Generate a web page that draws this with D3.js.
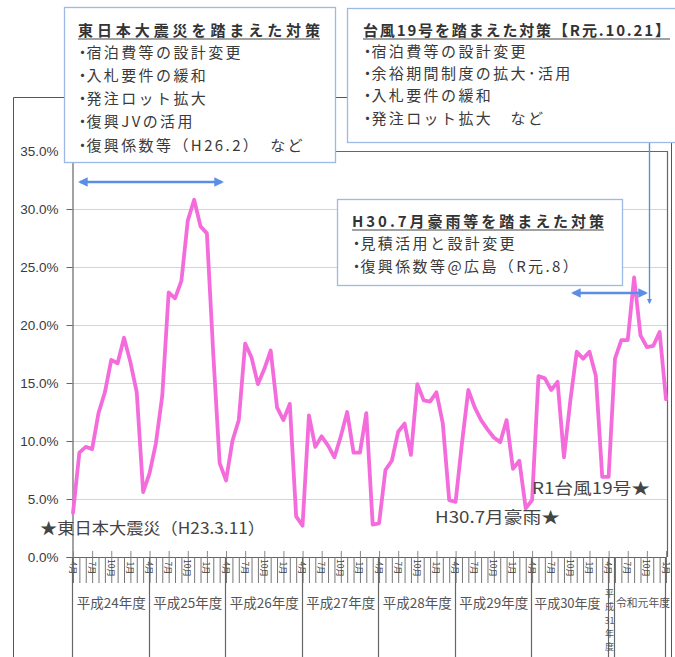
<!DOCTYPE html>
<html><head><meta charset="utf-8">
<script src="https://cdn.jsdelivr.net/npm/d3@7"></script>
<style>
body{margin:0;background:#fff}
svg{display:block}
text{font-family:"Noto Sans CJK JP","Noto Sans",sans-serif;fill:#3a3a3a}
</style>
</head><body><svg id="c" width="675" height="657"></svg>
<script>
// ---------------- DATA ----------------
const fiscalYears = ["平成24年度","平成25年度","平成26年度","平成27年度","平成28年度","平成29年度","平成30年度","平成31年度","令和元年度"];
const yearStartIndex = [0,12,24,36,48,60,72,84,85];
const monthTickLabels = ["4月","7月","10月","1月"];
const yTicks = [0,5,10,15,20,25,30,35];
const rate = [
  3.8, 9.0, 9.5, 9.3, 12.4, 14.2, 17.0, 16.7, 18.9, 16.8, 14.2, 5.6,
  7.2, 9.8, 13.9, 22.8, 22.3, 23.8, 29.0, 30.8, 28.5, 27.9, 17.5, 8.1,
  6.6, 10.0, 11.8, 18.4, 17.2, 14.9, 16.2, 17.8, 12.9, 11.8, 13.2, 3.5,
  2.7, 12.2, 9.5, 10.4, 9.6, 8.6, 10.4, 12.5, 9.0, 9.0, 12.4, 2.8,
  2.9, 7.5, 8.3, 10.8, 11.5, 8.8, 14.9, 13.5, 13.4, 14.2, 11.5, 4.9,
  4.75, 9.8, 14.4, 12.9, 11.8, 11.0, 10.3, 9.9, 11.8, 7.6, 8.3, 4.2,
  4.9, 15.6, 15.4, 14.4, 15.1, 8.6, 13.5, 17.7, 17.1, 17.7, 15.6, 6.9,
  6.9,
  17.1, 18.7, 18.7, 24.1, 19.1, 18.1, 18.2, 19.4, 13.6
];
const box1Title = "東日本大震災を踏まえた対策";
const box1Lines = ["・宿泊費等の設計変更","・入札要件の緩和","・発注ロット拡大","・復興JVの活用","・復興係数等（H26.2）　など"];
const box2Title = "台風19号を踏まえた対策【R元.10.21】";
const box2Lines = ["・宿泊費等の設計変更","・余裕期間制度の拡大･活用","・入札要件の緩和","・発注ロット拡大　など"];
const box3Title = "H30.7月豪雨等を踏まえた対策";
const box3Lines = ["・見積活用と設計変更","・復興係数等@広島（R元.8）"];
const eventLabels = ["★東日本大震災（H23.3.11）","H30.7月豪雨★","R1台風19号★"];

// ---------------- CHART ----------------
const svg = d3.select("#c");
const idx = d3.range(rate.length);
const x = d3.scalePoint().domain(idx).range([73, 666]);
const y = d3.scaleLinear().domain([0,35]).range([557,151]);
const grid = "#c9d6ea", axisC = "#666";

// outer frame
svg.append("path").attr("d","M13.5,657 V97.5 H671.5 V657").attr("fill","none").attr("stroke","#555").attr("stroke-width",1);

// gridlines
svg.append("g").selectAll("line").data(yTicks.filter(v=>v>0&&v<35)).join("line")
  .attr("x1",72).attr("x2",667).attr("y1",d=>y(d)+0.5).attr("y2",d=>y(d)+0.5)
  .attr("stroke",grid).attr("stroke-width",1);

// plot frame (top & right)
svg.append("path").attr("d",`M72,${y(35)+0.5} H667.5 V557`).attr("fill","none").attr("stroke",axisC).attr("stroke-width",1.2);

// y axis
const yAxis = d3.axisLeft(y).tickValues(yTicks).tickSize(6).tickPadding(8).tickFormat(d=>(d).toFixed(1)+"%");
const ga = svg.append("g").attr("transform","translate(72.5,0)").call(yAxis);
ga.select(".domain").attr("stroke",axisC).attr("stroke-width",1.2);
ga.selectAll(".tick line").attr("stroke",axisC);
ga.selectAll(".tick text").attr("font-size",13.5).style("font-family","'Liberation Sans',Arial,sans-serif").attr("fill","#4a4a4a");

// x axis base line
svg.append("line").attr("x1",72).attr("x2",667).attr("y1",557.5).attr("y2",557.5).attr("stroke",axisC).attr("stroke-width",1.2);

// month lines
svg.append("g").selectAll("line").data(idx).join("line")
  .attr("x1",d=>x(d)+0.5).attr("x2",d=>x(d)+0.5).attr("y1",557).attr("y2",583)
  .attr("stroke","#777").attr("stroke-width",1);
// quarter ticks above
svg.append("g").selectAll("line").data(idx.filter(i=>i%3===0)).join("line")
  .attr("x1",d=>x(d)+0.5).attr("x2",d=>x(d)+0.5).attr("y1",551).attr("y2",557)
  .attr("stroke","#888").attr("stroke-width",1);
// month labels (rotated)
svg.append("g").selectAll("text").data(idx.filter(i=>i%3===0)).join("text")
  .attr("transform",d=>`translate(${x(d)+0.5},568) rotate(90)`)
  .attr("text-anchor","middle").attr("dominant-baseline","central")
  .attr("font-size",8.5).style("fill","#444")
  .text(d=>monthTickLabels[(d/3)%4]);

// year separators
const sepIdx = yearStartIndex.concat([rate.length-1]);
svg.append("g").selectAll("line").data(sepIdx).join("line")
  .attr("x1",d=>Math.round(x(d))-0.5).attr("x2",d=>Math.round(x(d))-0.5).attr("y1",557).attr("y2",657)
  .attr("stroke","#666").attr("stroke-width",1.2);

// year labels
const yl = svg.append("g").attr("font-size",13.5);
fiscalYears.slice(0,7).forEach((t,k)=>{
  const a = x(yearStartIndex[k]), b = x(yearStartIndex[k+1]);
  yl.append("text").attr("x",(a+b)/2 - (k===6?3:0)).attr("y",608).attr("text-anchor","middle")
    .attr("font-size",k===6?13:13.5).style("fill","#555").text(t);
});
// 平成31年度 : narrow column, one character per row
const h31x = x(84) + 1;
const h31 = yl.append("text").attr("text-anchor","middle").attr("font-size",9).style("fill","#555");
const h31rows = ["平","成","31","年","度"];
h31rows.forEach((t,k)=>{
  h31.append("tspan").attr("x",h31x).attr("y",597 + k*13.3).text(t);
});
yl.append("text").attr("x",670).attr("y",607).attr("text-anchor","end").attr("font-size",10.8).style("fill","#555").text(fiscalYears[8]);

// the series line
svg.append("path").datum(rate)
  .attr("d",d3.line().x((d,i)=>x(i)).y(d=>y(d)))
  .attr("fill","none").attr("stroke","#f46cdc").attr("stroke-width",3.8)
  .attr("stroke-linejoin","round").attr("stroke-linecap","round");

// event labels
const ev = svg.append("g").attr("font-size",16);
ev.append("text").attr("x",40).attr("y",534).attr("textLength",225).attr("lengthAdjust","spacingAndGlyphs").style("fill","#444").text(eventLabels[0]);
ev.append("text").attr("x",435).attr("y",523).attr("textLength",125).attr("lengthAdjust","spacingAndGlyphs").style("fill","#444").text(eventLabels[1]);
ev.append("text").attr("x",532).attr("y",494).attr("textLength",118).attr("lengthAdjust","spacingAndGlyphs").style("fill","#444").text(eventLabels[2]);

// arrows
const arrowC = "#5b8fe6";
const defs = svg.append("defs");
defs.append("marker").attr("id","ah").attr("viewBox","0 0 10 10").attr("refX",8).attr("refY",5)
  .attr("markerWidth",4).attr("markerHeight",4).attr("orient","auto-start-reverse")
  .append("path").attr("d","M0,0 L10,5 L0,10 Z").attr("fill",arrowC);
function arrow(x1,y1,x2,y2,both){
  const l = svg.append("line").attr("x1",x1).attr("y1",y1).attr("x2",x2).attr("y2",y2)
    .attr("stroke",arrowC).attr("stroke-width",2.4).attr("marker-end","url(#ah)");
  if(both) l.attr("marker-start","url(#ah)");
}
arrow(80,182,222,182,true);
arrow(573,293,646,293,true);
svg.append("line").attr("x1",649.5).attr("y1",140).attr("x2",649.5).attr("y2",303).attr("stroke",arrowC).attr("stroke-width",1.4).attr("marker-end","url(#ah)");

// boxes
function box(bx,by,bw,bh,tx,titleY,title,titleLen,lines,lineYs){
  const g = svg.append("g");
  g.append("rect").attr("x",bx+0.5).attr("y",by+0.5).attr("width",bw).attr("height",bh)
    .attr("fill","#fff").attr("stroke","#9db9e6").attr("stroke-width",1.3);
  g.append("text").attr("x",tx).attr("y",titleY).attr("font-size",15).attr("font-weight","bold")
    .attr("textLength",titleLen).attr("lengthAdjust","spacing").style("fill","#333").text(title);
  g.append("line").attr("x1",tx).attr("x2",tx+titleLen).attr("y1",titleY+3).attr("y2",titleY+3).attr("stroke","#444").attr("stroke-width",1.2);
  lines.forEach((s,k)=>{
    g.append("text").attr("x",tx-3).attr("y",lineYs[k]).attr("dx","0 -6").attr("font-size",15)
      .style("letter-spacing","2.4px").style("fill","#3a3a3a").text(s);
  });
}
box(64,7,271,155,78,36,box1Title,242,box1Lines,[58,81,104,127,151]);
box(347,8,332,134,363,36,box2Title,307,box2Lines,[57,79,101,124]);
box(337,199,285,86,352,227,box3Title,252,box3Lines,[249,272]);
</script>
</body></html>
